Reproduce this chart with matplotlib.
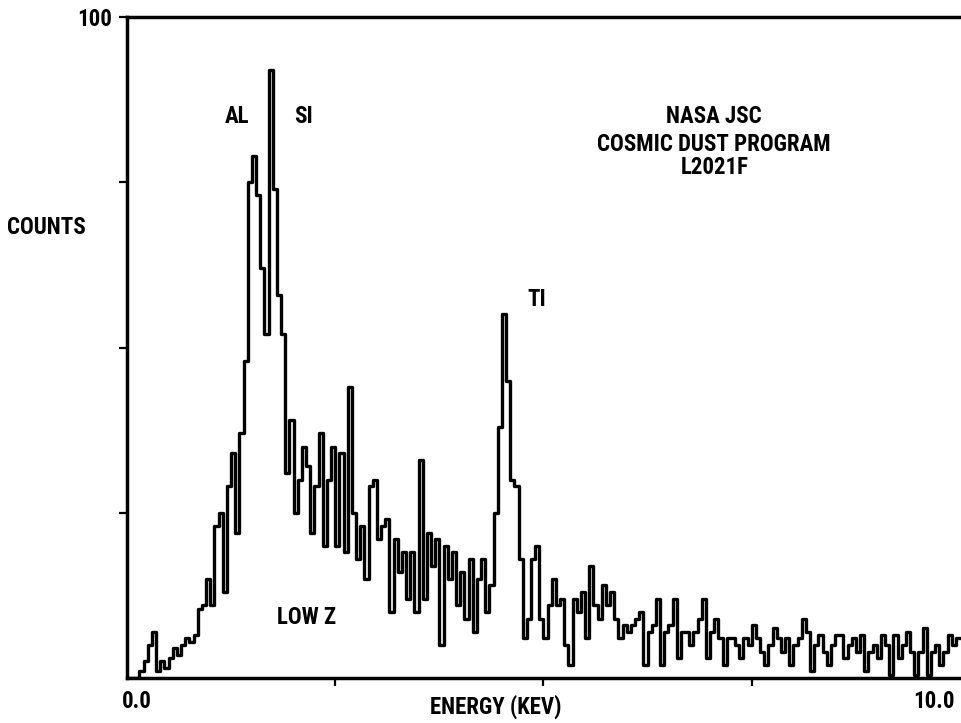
import numpy as np
import matplotlib
matplotlib.use("Agg")
import matplotlib.pyplot as plt

# Spectrum: counts (% of full scale) per 0.05 keV channel, 0.0 .. 10.0 keV
channel_width_kev = 0.05
counts = [
    0, 0, 0, 1, 2.5, 5, 7, 1, 2.5, 1.5,
    3, 4.5, 3.5, 5, 6, 5.5, 6.5, 10.5, 11, 15,
    11, 23, 25, 13, 29, 34, 22, 37, 48, 75,
    79, 73, 62, 52, 92, 74, 58, 52, 31, 39,
    25, 30, 35, 32, 22, 29, 37, 20, 30, 35,
    20, 34, 19, 44, 25, 18, 23, 15, 29, 30,
    21, 23, 24, 10, 21, 16, 19, 12, 19, 10,
    33, 12, 22, 17, 21, 5, 20, 15, 19, 11,
    16, 9, 18, 7, 15, 18, 10, 14, 25, 38,
    55, 45, 30, 29, 18, 6, 9, 18, 20, 9,
    6, 11, 15, 11, 12, 5, 2, 12, 10, 13,
    6, 17, 11, 9, 14, 11, 13, 9, 6, 8,
    7, 8, 9, 10, 2, 7, 8, 12, 2, 7,
    8, 12, 3, 7, 7, 5, 7, 9, 12, 3,
    7, 9, 6, 2, 6, 6, 5, 3, 6, 5,
    8, 6, 4, 2, 5, 7.5, 6, 4, 6, 2,
    5, 6, 9, 7, 1, 5, 6.5, 4, 2, 5,
    6.5, 6.5, 3, 5, 6, 4, 6.5, 1, 4, 5,
    3, 6.5, 5, 0.5, 6.5, 3, 5, 7, 4, 0.5,
    4, 7.5, 0.5, 4, 5, 2, 4, 6.5, 5, 6,
]

x_ticks = [0, 2.5, 5, 7.5, 10]
y_ticks = [0, 25, 50, 75, 100]

peak_labels = ["AL", "SI", "TI", "LOW Z"]
peak_label_pos = [(1.32, 85), (2.12, 85), (4.92, 57.2), (2.15, 9.2)]
title_lines = ["NASA JSC", "COSMIC DUST PROGRAM", "L2021F"]
title_y = [85, 80.7, 77.3]
title_x = 7.05

FONT = ["Roboto Condensed", "DejaVu Sans"]

W, H = 962, 723
fig = plt.figure(figsize=(W / 100, H / 100), dpi=100)
left_px, right_px, top_px, bottom_px = 127, 962, 17, 678
ax = fig.add_axes([left_px / W, 1 - bottom_px / H,
                   (right_px - left_px) / W, (bottom_px - top_px) / H])

n = len(counts)
edges = np.arange(n + 1) * channel_width_kev
vals = np.array(counts + [counts[-1]], dtype=float)
ax.step(edges, vals, where="post", color="black", lw=2.4)

ax.set_xlim(0, 10.0 * (right_px - left_px) / (960 - left_px))
ax.set_ylim(0, 100)

for s in ["left", "bottom", "top"]:
    ax.spines[s].set_linewidth(2.5)
ax.spines["right"].set_visible(False)

ax.set_xticks(x_ticks[1:-1])
ax.set_xticklabels([])
ax.set_yticks(y_ticks[1:])
ax.set_yticklabels([])
ax.tick_params(axis="both", direction="out", length=6, width=1.6, color="black")

txt = dict(family=FONT, fontweight="bold", fontsize=16.5, color="black")

for lab, (xe, yv) in zip(peak_labels, peak_label_pos):
    ax.text(xe, yv, lab, ha="center", va="center", **txt)

for line, yv in zip(title_lines, title_y):
    ax.text(title_x, yv, line, ha="center", va="center", **txt)

def ftext(xp, yp, s, ha="center"):
    fig.text(xp / W, 1 - yp / H, s, ha=ha, va="center", **txt)

ftext(95, 19, "100")
ftext(46, 228, "COUNTS")
ftext(137, 701, "0.0")
ftext(934, 701, "10.0")
ftext(496, 707, "ENERGY (KEV)")

fig.savefig("out.png", dpi=100, facecolor="white")
